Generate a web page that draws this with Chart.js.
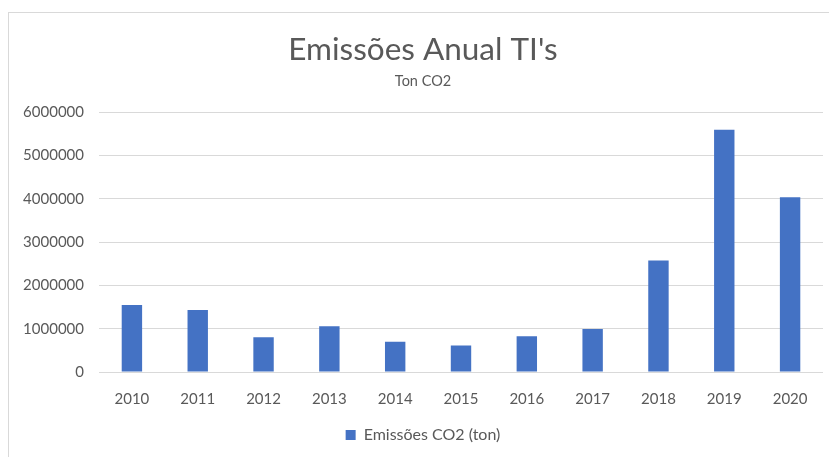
<!DOCTYPE html>
<html><head><meta charset="utf-8">
<script src="https://cdn.jsdelivr.net/npm/chart.js@4/dist/chart.umd.min.js"></script>
<style>
html,body{margin:0;padding:0;background:#fff;overflow:hidden;}
#wrap{position:absolute;left:8px;top:12px;width:830px;height:450px;border:1px solid #d9d9d9;box-sizing:border-box;}
canvas{display:block;}
</style></head><body>
<div id="wrap"><canvas id="c"></canvas></div>
<script>
const categories = ["2010","2011","2012","2013","2014","2015","2016","2017","2018","2019","2020"];
const emissions = [1545000, 1430000, 800000, 1055000, 700000, 610000, 826000, 993000, 2576000, 5596000, 4037000];
const yTicks = [0, 1000000, 2000000, 3000000, 4000000, 5000000, 6000000];
const seriesLabel = "Emissões CO2 (ton)";
const titleText = "Emissões Anual TI's";
const subtitleText = "Ton CO2";

const FONT = "Lato, 'Open Sans', sans-serif";
new Chart(document.getElementById('c'), {
  type: 'bar',
  data: {
    labels: categories,
    datasets: [{
      label: seriesLabel,
      data: emissions,
      backgroundColor: '#4472C4',
      borderWidth: 0,
      barPercentage: 0.31,
      categoryPercentage: 1.0
    }]
  },
  options: {
    responsive: true,
    maintainAspectRatio: false,
    animation: false,
    layout: { padding: { left: 14, right: 14, top: 10, bottom: 8 } },
    plugins: {
      title: { display: true, text: titleText, color: '#595959',
        font: { family: FONT, size: 31.5, weight: 'normal' }, padding: { top: 8, bottom: 4 } },
      subtitle: { display: true, text: subtitleText, color: '#595959',
        font: { family: FONT, size: 14.5, weight: 'normal' }, padding: { bottom: 22 } },
      legend: { position: 'bottom', labels: { color: '#595959', boxWidth: 10, boxHeight: 10,
        font: { family: FONT, size: 16 }, padding: 9 } },
      tooltip: { enabled: false }
    },
    scales: {
      x: {
        grid: { display: false },
        border: { display: false },
        ticks: { color: '#595959', font: { family: FONT, size: 15 }, padding: 10, maxRotation: 0 }
      },
      y: {
        min: 0, max: 6000000,
        afterBuildTicks: (axis) => { axis.ticks = yTicks.map(v => ({ value: v })); },
        afterFit: (axis) => { axis.width = 76; },
        grid: { color: '#d9d9d9', lineWidth: 1, drawTicks: false },
        border: { display: false },
        ticks: { color: '#595959', font: { family: FONT, size: 15 }, padding: 15,
          callback: (v) => String(v) }
      }
    }
  }
});
</script>
</body></html>
